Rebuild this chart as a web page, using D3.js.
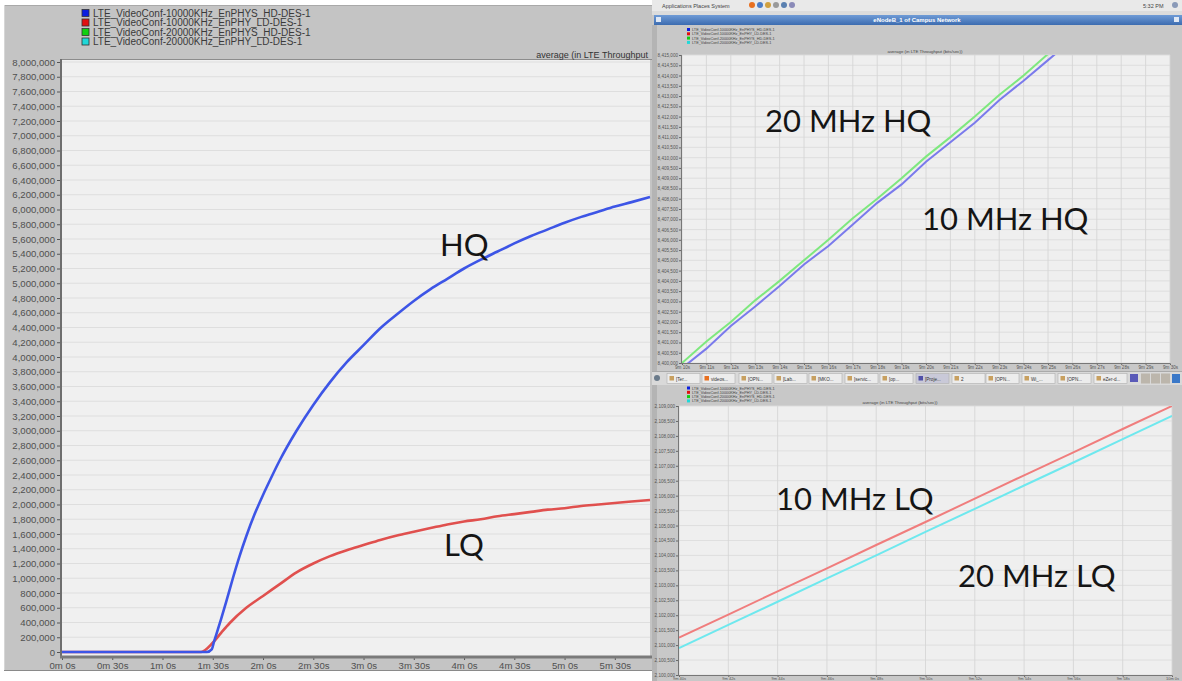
<!DOCTYPE html>
<html><head><meta charset="utf-8">
<script src="https://cdn.jsdelivr.net/npm/d3@7"></script>
<style>
html,body{margin:0;padding:0;background:#fff;overflow:hidden}
svg{display:block}
text{font-family:"Liberation Sans",Arial,sans-serif}
.big{font-family:Lato,"Open Sans",sans-serif;font-size:31px;fill:#151515}
</style></head><body>
<svg id="c" width="1182" height="681"></svg>
<script>
// ---------- data ----------
const seriesNames = [
  "LTE_VideoConf-10000KHz_EnPHYS_HD-DES-1",
  "LTE_VideoConf-10000KHz_EnPHY_LD-DES-1",
  "LTE_VideoConf-20000KHz_EnPHYS_HD-DES-1",
  "LTE_VideoConf-20000KHz_EnPHY_LD-DES-1"
];
const seriesColors = ["#0a1ee0", "#e01010", "#10d010", "#20d8d8"];

// overview: average throughput (bits/sec) vs simulation time (s)
const hqTimes  = [0, 60, 86.5, 89.5, 90.5, 92, 95, 98, 102, 106, 110, 115, 120, 125, 130, 140, 150, 160, 170, 180, 190, 200, 210, 220, 230, 240, 250, 260, 270, 280, 290, 300, 310, 320, 330, 340, 351];
const hqValues = [0, 0, 0, 40000, 120000, 230000, 450000, 680000, 1000000, 1300000, 1570000, 1870000, 2130000, 2370000, 2600000, 3000000, 3350000, 3660000, 3930000, 4160000, 4390000, 4580000, 4760000, 4920000, 5060000, 5200000, 5320000, 5430000, 5540000, 5640000, 5730000, 5820000, 5900000, 5970000, 6040000, 6100000, 6170000];
const lqTimes  = [0, 60, 83, 90, 95, 100, 110, 120, 130, 140, 150, 160, 170, 180, 190, 200, 210, 220, 230, 240, 250, 260, 270, 280, 290, 300, 310, 320, 330, 340, 351];
const lqValues = [0, 0, 0, 125000, 260000, 390000, 600000, 760000, 920000, 1080000, 1200000, 1300000, 1380000, 1450000, 1520000, 1580000, 1630000, 1680000, 1730000, 1770000, 1800000, 1840000, 1870000, 1900000, 1930000, 1950000, 1980000, 2000000, 2020000, 2040000, 2060000];
const leftYTicks = d3.range(0, 8000001, 200000);
const leftXTicks = [0, 30, 60, 90, 120, 150, 180, 210, 240, 270, 300, 330];

// zoomed HQ window
const hqZoomTimes  = [0, 1, 2, 3, 4, 5, 6, 7, 8, 9, 10, 11, 12, 13, 14, 15, 16];
const hq20Values   = [8400000, 8401050, 8402000, 8403050, 8404000, 8405000, 8406000, 8407050, 8408000, 8409000, 8410050, 8411000, 8412000, 8413050, 8414000, 8415050, 8416000];
const hq10Values   = [8399750, 8400700, 8401800, 8402750, 8403750, 8404800, 8405700, 8406750, 8407800, 8408700, 8409800, 8410750, 8411700, 8412800, 8413750, 8414750, 8415750];
const hqZoomYTicks = d3.range(8400000, 8415001, 500);
const hqZoomXLabels = ["9m 10s","9m 11s","9m 12s","9m 13s","9m 14s","9m 15s","9m 16s","9m 17s","9m 18s","9m 19s","9m 20s","9m 21s","9m 22s","9m 23s","9m 24s","9m 25s","9m 26s","9m 27s","9m 28s","9m 29s","9m 30s"];

// zoomed LQ window
const lqZoomTimes  = [0, 1, 2, 3, 4, 5, 6, 7, 8, 9, 10];
const lq10Values   = [2101250, 2102020, 2102800, 2103570, 2104350, 2105120, 2105900, 2106680, 2107450, 2108230, 2109000];
const lq20Values   = [2100900, 2101680, 2102450, 2103230, 2104000, 2104790, 2105560, 2106340, 2107110, 2107890, 2108670];
const lqZoomYTicks = d3.range(2100000, 2109001, 500);
const lqZoomXLabels = ["9m 40s","9m 42s","9m 44s","9m 46s","9m 48s","9m 50s","9m 52s","9m 54s","9m 56s","9m 58s","10m 0s"];

const taskButtons = ["[Ter...","videos...","[OPN...","[Lab...","[MKO...","[servic...","[op...","[Proje...","2","[OPN...","Wi_...","[OPN...","eZer-d..."];

const fmtComma = d3.format(",");
const fmtMS = s => `${Math.floor(s / 60)}m ${s % 60}s`;

const svg = d3.select("#c");
svg.append("rect").attr("width", 1182).attr("height", 681).attr("fill", "#fff");
const defs = svg.append("defs");

// ---------- left: overview chart ----------
const L = svg.append("g");
L.append("rect").attr("x", 4).attr("y", 5).attr("width", 650).attr("height", 666).attr("fill", "#c4c4c4");
L.append("line").attr("x1", 4).attr("x2", 654).attr("y1", 5.5).attr("y2", 5.5).attr("stroke", "#a9a9a9");
L.append("line").attr("x1", 4.5).attr("x2", 4.5).attr("y1", 5).attr("y2", 671).attr("stroke", "#d6d6d6");
L.append("line").attr("x1", 4).attr("x2", 654).attr("y1", 670.5).attr("y2", 670.5).attr("stroke", "#8a8a8a");

const xL = d3.scaleLinear().domain([0, 351]).range([62, 650]);
const yL = d3.scaleLinear().domain([0, 8000000]).range([652, 62]);

L.append("rect").attr("x", 62).attr("y", 60).attr("width", 588).attr("height", 596).attr("fill", "#f0f0f0");
L.append("g").selectAll("line").data(leftYTicks.slice(1)).join("line")
  .attr("x1", 62).attr("x2", 650).attr("y1", d => yL(d)).attr("y2", d => yL(d))
  .attr("stroke", "#dedede").attr("stroke-width", 1);

const yAxL = L.append("g").attr("transform", "translate(61,0)")
  .call(d3.axisLeft(yL).tickValues(leftYTicks).tickFormat(fmtComma).tickSize(4).tickPadding(2));
yAxL.select(".domain").remove();
yAxL.selectAll("line").attr("stroke", "#555");
yAxL.selectAll("text").attr("fill", "#505050").style("font-size", "9.6px");

const xAxL = L.append("g").attr("transform", "translate(0,657)")
  .call(d3.axisBottom(xL).tickValues(leftXTicks).tickFormat(fmtMS).tickSize(3).tickPadding(2));
xAxL.select(".domain").remove();
xAxL.selectAll("line").attr("stroke", "#555");
xAxL.selectAll("text").attr("fill", "#505050").style("font-size", "9.6px");

L.append("line").attr("x1", 61).attr("x2", 61).attr("y1", 59).attr("y2", 658).attr("stroke", "#6e6e6e").attr("stroke-width", 2);
L.append("line").attr("x1", 60).attr("x2", 652).attr("y1", 657).attr("y2", 657).attr("stroke", "#7a7a7a").attr("stroke-width", 3);
L.append("line").attr("x1", 62).attr("x2", 652).attr("y1", 59.5).attr("y2", 59.5).attr("stroke", "#8c8c8c");

L.append("text").attr("x", 648).attr("y", 58).attr("text-anchor", "end").attr("fill", "#333").style("font-size", "9px")
  .text("average (in LTE Throughput");

const legL = L.append("g");
seriesNames.forEach((n, i) => {
  const y = 13 + i * 9.5;
  legL.append("rect").attr("x", 82).attr("y", y - 3.5).attr("width", 7).attr("height", 7)
    .attr("fill", seriesColors[i]).attr("stroke", "#333").attr("stroke-width", 0.8);
  legL.append("text").attr("x", 93).attr("y", y + 3.5).attr("fill", "#3a3a3a").style("font-size", "10px").text(n);
});

const lineL = d3.line().x(d => xL(d[0])).y(d => yL(d[1])).curve(d3.curveMonotoneX);
L.append("path").datum(d3.zip(lqTimes, lqValues)).attr("d", lineL)
  .attr("fill", "none").attr("stroke", "#e0504e").attr("stroke-width", 2.6);
L.append("path").datum(d3.zip(hqTimes, hqValues)).attr("d", lineL)
  .attr("fill", "none").attr("stroke", "#3d55e6").attr("stroke-width", 2.6);

// ---------- right: desktop screenshots ----------
const R = svg.append("g");
R.append("rect").attr("x", 652).attr("y", 0).attr("width", 530).attr("height", 681).attr("fill", "#c8c8c8");

// desktop top bar
R.append("rect").attr("x", 652).attr("y", 0).attr("width", 530).attr("height", 11).attr("fill", "#e9e9e9");
R.append("text").attr("x", 662).attr("y", 7.5).attr("fill", "#444").style("font-size", "5.5px").text("Applications    Places    System");
["#e87020", "#4a7cc8", "#d0a040", "#9a9a9a", "#5a80b0", "#8a8ab8"].forEach((c, i) => {
  R.append("circle").attr("cx", 752 + i * 8).attr("cy", 5).attr("r", 3).attr("fill", c);
});
R.append("text").attr("x", 1143).attr("y", 7.5).attr("fill", "#444").style("font-size", "5.5px").text("5:32 PM");
R.append("circle").attr("cx", 1175).attr("cy", 5).attr("r", 3).attr("fill", "#8a9ab8");
R.append("rect").attr("x", 652).attr("y", 11).attr("width", 530).attr("height", 4).attr("fill", "#dcdcdc");

// window title bar
const tg = defs.append("linearGradient").attr("id", "tbar").attr("x1", 0).attr("x2", 0).attr("y1", 0).attr("y2", 1);
tg.append("stop").attr("offset", "0%").attr("stop-color", "#6f9bd6");
tg.append("stop").attr("offset", "100%").attr("stop-color", "#3c6cb0");
R.append("rect").attr("x", 654).attr("y", 15).attr("width", 528).attr("height", 10).attr("fill", "url(#tbar)");
R.append("rect").attr("x", 656).attr("y", 17).attr("width", 5).attr("height", 5).attr("fill", "#dfe8f5");
R.append("rect").attr("x", 1174).attr("y", 17).attr("width", 5).attr("height", 5).attr("fill", "#dfe8f5");
R.append("text").attr("x", 917).attr("y", 22.3).attr("text-anchor", "middle").attr("fill", "#fff")
  .style("font-size", "6px").style("font-weight", "bold").text("eNodeB_1 of Campus Network");

// left frame strip of the screenshots
R.append("rect").attr("x", 652).attr("y", 25).attr("width", 5).attr("height", 656).attr("fill", "#b4b4b4");

function miniLegend(g, y0) {
  seriesNames.forEach((n, i) => {
    const y = y0 + i * 4.3;
    g.append("rect").attr("x", 687).attr("y", y - 1.5).attr("width", 3).attr("height", 3).attr("fill", seriesColors[i]);
    g.append("text").attr("x", 692).attr("y", y + 1.5).attr("fill", "#444").style("font-size", "3.8px").text(n);
  });
}

function zoomPanel(cfg) {
  const g = R.append("g");
  const x = d3.scaleLinear().domain(cfg.xDomain).range([cfg.left, cfg.right]);
  const y = d3.scaleLinear().domain(cfg.yDomain).range([cfg.bottom, cfg.top]);
  g.append("rect").attr("x", cfg.left).attr("y", cfg.top).attr("width", cfg.right - cfg.left)
    .attr("height", cfg.bottom - cfg.top).attr("fill", "#efefef");
  g.append("g").selectAll("line").data(cfg.yTicks).join("line")
    .attr("x1", cfg.left).attr("x2", cfg.right).attr("y1", d => y(d)).attr("y2", d => y(d))
    .attr("stroke", "#dcdcdc").attr("stroke-width", 0.9);
  g.append("g").selectAll("line").data(d3.range(cfg.xLabels.length)).join("line")
    .attr("x1", d => x(d * cfg.xStep)).attr("x2", d => x(d * cfg.xStep))
    .attr("y1", cfg.top).attr("y2", cfg.bottom).attr("stroke", "#d6d6d6").attr("stroke-width", 0.9);
  const ya = g.append("g").attr("transform", `translate(${cfg.left - 1},0)`)
    .call(d3.axisLeft(y).tickValues(cfg.yTicks).tickFormat(fmtComma).tickSize(2).tickPadding(1));
  ya.select(".domain").remove();
  ya.selectAll("line").attr("stroke", "#666");
  ya.selectAll("text").attr("fill", "#555").style("font-size", "4.6px");
  const xa = g.append("g").attr("transform", `translate(0,${cfg.bottom + 0.5})`)
    .call(d3.axisBottom(x).tickValues(d3.range(cfg.xLabels.length).map(d => d * cfg.xStep))
      .tickFormat((d, i) => cfg.xLabels[i]).tickSize(1.5).tickPadding(0.5));
  xa.select(".domain").remove();
  xa.selectAll("line").attr("stroke", "#666");
  xa.selectAll("text").attr("fill", "#555").style("font-size", cfg.xFont || "4.6px");
  g.append("line").attr("x1", cfg.left - 0.5).attr("x2", cfg.left - 0.5).attr("y1", cfg.top).attr("y2", cfg.bottom + 1)
    .attr("stroke", "#777");
  g.append("line").attr("x1", cfg.left).attr("x2", cfg.right).attr("y1", cfg.bottom + 0.5).attr("y2", cfg.bottom + 0.5)
    .attr("stroke", "#777");
  g.append("text").attr("x", cfg.titleX).attr("y", cfg.top - 2.5).attr("text-anchor", "middle")
    .attr("fill", "#444").style("font-size", "4.4px").text("average (in LTE Throughput (bits/sec))");
  defs.append("clipPath").attr("id", cfg.id).append("rect").attr("x", cfg.left).attr("y", cfg.top)
    .attr("width", cfg.right - cfg.left).attr("height", cfg.bottom - cfg.top);
  const line = d3.line().x(d => x(d[0])).y(d => y(d[1]));
  const lg = g.append("g").attr("clip-path", `url(#${cfg.id})`);
  cfg.series.forEach(s => {
    lg.append("path").datum(d3.zip(s.t, s.v)).attr("d", line)
      .attr("fill", "none").attr("stroke", s.color).attr("stroke-width", 2);
  });
  return g;
}

miniLegend(R, 29.5);
zoomPanel({
  id: "clipHQ", left: 682, right: 1170, top: 55, bottom: 363, titleX: 925,
  xDomain: [0, 20], xStep: 1, xLabels: hqZoomXLabels,
  yDomain: [8400000, 8415000], yTicks: hqZoomYTicks,
  series: [
    { t: hqZoomTimes, v: hq20Values, color: "#7ee87e" },
    { t: hqZoomTimes, v: hq10Values, color: "#7a7aec" }
  ]
});

// taskbar between the two windows
R.append("rect").attr("x", 652).attr("y", 371).attr("width", 530).attr("height", 14).attr("fill", "#d9d9d9");
R.append("line").attr("x1", 652).attr("x2", 1182).attr("y1", 371.5).attr("y2", 371.5).attr("stroke", "#aaa");
R.append("circle").attr("cx", 657).attr("cy", 378).attr("r", 3).attr("fill", "#6a7a8a");
const btnX = [667, 702, 739, 774, 809, 845, 880, 916, 952, 986, 1022, 1058, 1094];
taskButtons.forEach((b, i) => {
  R.append("rect").attr("x", btnX[i]).attr("y", 373.5).attr("width", 33).attr("height", 10)
    .attr("fill", i === 7 ? "#c9c9d8" : "#ececec").attr("stroke", "#b0b0b0").attr("stroke-width", 0.6);
  R.append("rect").attr("x", btnX[i] + 2.5).attr("y", 376).attr("width", 4.5).attr("height", 4.5)
    .attr("fill", i === 1 ? "#e87020" : (i === 7 ? "#5050a8" : "#c8a060"));
  R.append("text").attr("x", btnX[i] + 9).attr("y", 380.5).attr("fill", "#333").style("font-size", "4.6px").text(b);
});
R.append("rect").attr("x", 1130).attr("y", 374).attr("width", 8).attr("height", 8).attr("fill", "#5a5ab8");
[1141, 1151, 1161].forEach(x => R.append("rect").attr("x", x).attr("y", 373.5).attr("width", 9).attr("height", 10).attr("fill", "#bcb6ac"));
R.append("rect").attr("x", 1172).attr("y", 374).attr("width", 8).attr("height", 9).attr("fill", "#3a78c8");

miniLegend(R, 388);
zoomPanel({
  id: "clipLQ", left: 679, right: 1172, top: 406, bottom: 675, titleX: 900, xFont: "4px",
  xDomain: [0, 10], xStep: 1, xLabels: lqZoomXLabels,
  yDomain: [2100000, 2109000], yTicks: lqZoomYTicks,
  series: [
    { t: lqZoomTimes, v: lq10Values, color: "#f07d7d" },
    { t: lqZoomTimes, v: lq20Values, color: "#6ee8ee" }
  ]
});

// ---------- annotations ----------
const notes = [
  { x: 440, y: 256, t: "HQ" },
  { x: 444, y: 556, t: "LQ" },
  { x: 765, y: 132, t: "20 MHz HQ" },
  { x: 922, y: 230, t: "10 MHz HQ" },
  { x: 776, y: 510, t: "10 MHz LQ" },
  { x: 958, y: 587, t: "20 MHz LQ" }
];
svg.append("g").selectAll("text").data(notes).join("text").attr("class", "big")
  .attr("x", d => d.x).attr("y", d => d.y).text(d => d.t);
</script>
</body></html>
